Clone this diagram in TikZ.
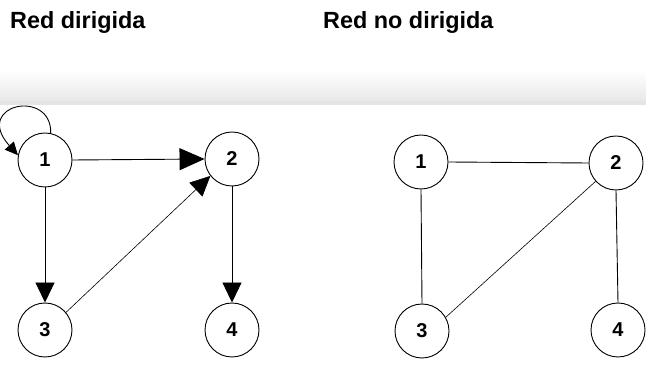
\documentclass[tikz,border=0pt]{standalone}
\usepackage{fontspec}
\setmainfont{Liberation Sans}
\usetikzlibrary{arrows.meta}
\begin{document}
\begin{tikzpicture}[x=1pt,y=-1pt,
  vert/.style={circle,draw,line width=0.9pt,minimum size=54pt,inner sep=0pt,font=\fontsize{20}{20}\selectfont\bfseries},
  edge/.style={line width=0.9pt},
  thin edge/.style={line width=0.6pt},
  bigtip/.style={-{Triangle[length=25pt,width=22pt]}},
  midtip/.style={-{Triangle[length=20pt,width=19pt]}},
  smalltip/.style={-{Triangle[length=13pt,width=12pt]}},
  title/.style={anchor=base west,inner sep=0pt,font=\fontsize{23.4}{24}\selectfont\bfseries}]
\useasboundingbox (0,0) rectangle (646,371);
% header band
\shade[top color=white,bottom color=black!9] (0,70) rectangle (646,101);
\fill[black!10] (0,101) rectangle (646,105);
% titles
\node[title] (t1) at (10,29) {Red dirigida};
\node[title] (t2) at (323,29) {Red no dirigida};
% directed network
\node[vert] (n1) at (45,160) {1};
\node[vert] (n2) at (232,159) {2};
\node[vert] (n3) at (45,330) {3};
\node[vert] (n4) at (232,330) {4};
\draw[edge,bigtip] (n1.east) -- (n2.west);
\draw[edge,midtip] (n1.south) -- (n3.north);
\draw[edge,midtip] (n2.south) -- (n4.north);
\draw[thin edge,midtip] (n3.40) -- (n2.218);
\draw[edge,smalltip] (n1.78) .. controls (52,88) and (-28,104) .. (n1.170);
% undirected network
\node[vert] (m1) at (421,162) {1};
\node[vert] (m2) at (616,163) {2};
\node[vert] (m3) at (422,331) {3};
\node[vert] (m4) at (618,330) {4};
\draw[edge] (m1.east) -- (m2.west);
\draw[edge] (m1.south) -- (m3.north);
\draw[edge] (m2.south) -- (m4.north);
\draw[thin edge] (m3.30) -- (m2.222);
\end{tikzpicture}
\end{document}
